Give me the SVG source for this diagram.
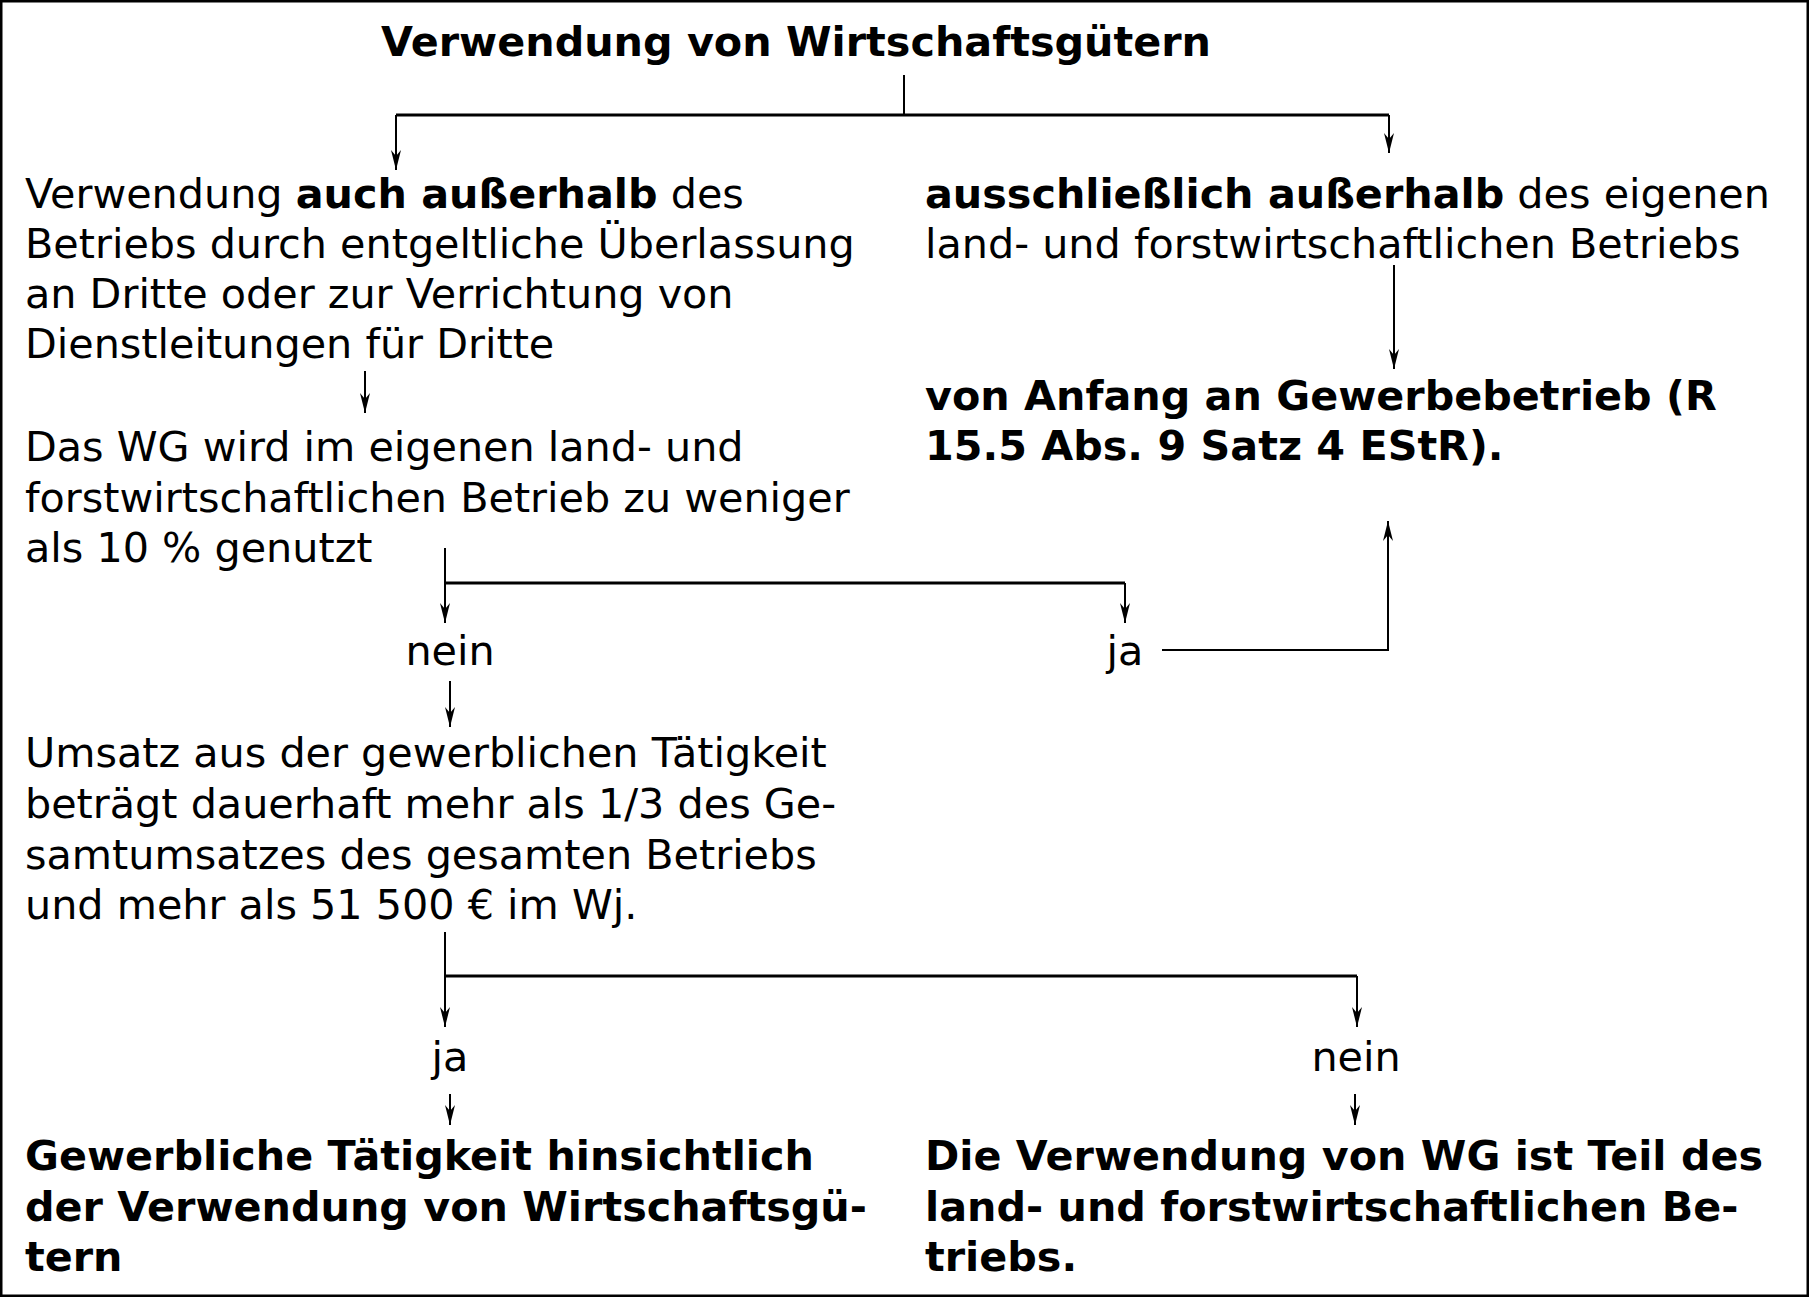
<svg xmlns="http://www.w3.org/2000/svg" width="1809" height="1297" viewBox="0 0 1809 1297">
<style>
text{font-family:"DejaVu Sans",Verdana,sans-serif;font-size:41.3px;fill:#000}
.b{font-weight:bold}
.c{text-anchor:middle}
.l{stroke:#000;stroke-width:2;fill:none}
.h{stroke:#000;stroke-width:3;fill:none}
</style>
<defs><marker id="d" viewBox="0 0 20 10" refX="20" refY="5" markerWidth="20" markerHeight="10" markerUnits="userSpaceOnUse" orient="auto"><path d="M0,0 L20,5 L0,10 L6,5 Z" fill="#000"/></marker></defs>
<rect x="1" y="1" width="1807" height="1295" fill="#fff" stroke="#000" stroke-width="3"/>
<g id="title"><text class="b" x="381" y="56" textLength="830" font-size="39">Verwendung von Wirtschaftsgütern</text></g>
<g id="n1"><text x="25" y="208">Verwendung <tspan class="b">auch außerhalb</tspan> des</text>
<text x="25" y="258">Betriebs durch entgeltliche Überlassung</text>
<text x="25" y="308">an Dritte oder zur Verrichtung von</text>
<text x="25" y="358">Dienstleitungen für Dritte</text></g>
<g id="n2"><text x="925" y="208"><tspan class="b">ausschließlich außerhalb</tspan> des eigenen</text>
<text x="925" y="258">land- und forstwirtschaftlichen Betriebs</text></g>
<g id="n3"><text class="b" x="925" y="410">von Anfang an Gewerbebetrieb (R</text>
<text class="b" x="925" y="460">15.5 Abs. 9 Satz 4 EStR).</text></g>
<g id="n4"><text x="25" y="461">Das WG wird im eigenen land- und</text>
<text x="25" y="512">forstwirtschaftlichen Betrieb zu weniger</text>
<text x="25" y="562">als 10 % genutzt</text></g>
<g id="l1"><text class="c" x="450" y="665">nein</text></g>
<g id="l2"><text class="c" x="1125" y="665">ja</text></g>
<g id="n5"><text x="25" y="767">Umsatz aus der gewerblichen Tätigkeit</text>
<text x="25" y="818">beträgt dauerhaft mehr als 1/3 des Ge-</text>
<text x="25" y="869">samtumsatzes des gesamten Betriebs</text>
<text x="25" y="919">und mehr als 51 500 € im Wj.</text></g>
<g id="l3"><text class="c" x="450" y="1071">ja</text></g>
<g id="l4"><text class="c" x="1356" y="1071">nein</text></g>
<g id="n6"><text class="b" x="25" y="1170">Gewerbliche Tätigkeit hinsichtlich</text>
<text class="b" x="25" y="1221">der Verwendung von Wirtschaftsgü-</text>
<text class="b" x="25" y="1271">tern</text></g>
<g id="n7"><text class="b" x="925" y="1170">Die Verwendung von WG ist Teil des</text>
<text class="b" x="925" y="1221">land- und forstwirtschaftlichen Be-</text>
<text class="b" x="925" y="1271">triebs.</text></g>
<g id="connectors">
<path class="l" d="M904,75 V115"/>
<path class="h" d="M396,115 H1389"/>
<path class="l" d="M396,115 V170" marker-end="url(#d)"/>
<path class="l" d="M1389,115 V153" marker-end="url(#d)"/>
<path class="l" d="M1394,265 V369" marker-end="url(#d)"/>
<path class="l" d="M365,371 V413" marker-end="url(#d)"/>
<path class="l" d="M445,548 V623" marker-end="url(#d)"/>
<path class="h" d="M445,583 H1125"/>
<path class="l" d="M1125,583 V623" marker-end="url(#d)"/>
<path class="l" d="M1162,650 H1388 V521" marker-end="url(#d)"/>
<path class="l" d="M450,681 V727" marker-end="url(#d)"/>
<path class="l" d="M445,932 V1027" marker-end="url(#d)"/>
<path class="h" d="M445,976 H1357"/>
<path class="l" d="M1357,976 V1027" marker-end="url(#d)"/>
<path class="l" d="M450,1094 V1125" marker-end="url(#d)"/>
<path class="l" d="M1355,1094 V1125" marker-end="url(#d)"/>
</g>
</svg>
